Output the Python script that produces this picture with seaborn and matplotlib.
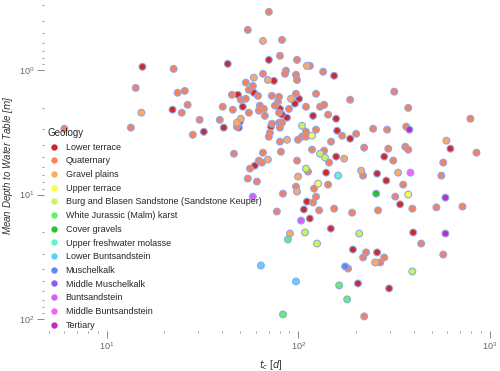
import matplotlib
matplotlib.use("Agg")
import matplotlib.pyplot as plt
from matplotlib.lines import Line2D
import seaborn as sns
import pandas as pd

geology_order = [
    "Lower terrace", "Quaternary", "Gravel plains", "Upper terrace",
    "Burg and Blasen Sandstone (Sandstone Keuper)", "White Jurassic (Malm) karst",
    "Cover gravels", "Upper freshwater molasse", "Lower Buntsandstein",
    "Muschelkalk", "Middle Muschelkalk", "Buntsandstein", "Middle Buntsandstein",
    "Tertiary",
]
geology_colors = [
    "#cc2b2b", "#f5825a", "#fdaa60", "#fafa50", "#c8f55a", "#5ff55f", "#2dc02d",
    "#5ff5d2", "#5fd2fa", "#5f87fa", "#875ffa", "#d25ffa", "#fa5ffa", "#c02dc0",
]

lower_terrace_tc = [15.4, 22.1, 32.2, 40.9, 42.9, 70.3, 74.7, 58.7, 48.5, 101, 96.2, 51.4, 80.3, 82.3,
                    87.4, 49.6, 49.0, 72.1, 59.4, 153.9, 119.5, 157.7, 159.6, 186.6, 622, 157.7, 281,
                    139.8, 258, 288, 111, 107, 115, 340, 148, 398, 193, 258, 205, 298]
lower_terrace_depth = [0.941, 2.08, 3.13, 2.90, 0.890, 0.827, 1.22, 1.52, 1.58, 1.70, 1.86, 1.97, 2.05,
                       2.28, 2.41, 2.60, 2.90, 2.85, 5.86, 1.11, 2.33, 2.46, 3.07, 3.56, 4.28, 4.96, 4.96,
                       6.67, 6.79, 7.73, 11.4, 13.2, 15.6, 12.0, 18.8, 20.2, 27.7, 29.2, 51.9, 56.9]

quaternary_tc = [6.03, 14.2, 22.4, 23.5, 25.6, 26.5, 24.7, 30.6, 13.4, 28.2, 39.0, 40.4, 45.6, 45.1,
                 50.2, 53.3, 53.3, 55.3, 55.3, 47.9, 46.2, 54.6, 56.0, 54.6, 70.3, 82.3, 80.3, 98.6,
                 115, 65.5, 86.3, 85.3, 97.4, 98.6, 58.0, 61.7, 72.9, 79.4, 78.4, 97.4, 109.8, 63.1,
                 66.2, 62.4, 75.6, 79.4, 89.5, 67.0, 72.9, 79.4, 82.3, 80.3, 71.2, 70.3, 109.8, 104.7,
                 109.8, 80.3, 99.8, 65.5, 81.3, 98.6, 62.4, 64.7, 112.5, 60.9, 97.4, 83.3, 77.4,
                 134.9, 317, 186.6, 375, 123.9, 130, 136.5, 143.2, 791, 123.9, 246, 291, 366, 169.4,
                 200.6, 148.4, 118.1, 220.8, 295, 362, 375, 851, 136.5, 144.9, 313, 571, 218, 558,
                 353, 143.2, 121, 321, 719, 526, 394, 261, 191, 154, 128.5, 119.5, 123.9, 438, 226,
                 218, 281, 268, 571, 182, 221]
quaternary_depth = [2.96, 1.39, 0.977, 1.52, 1.47, 1.90, 2.20, 2.51, 2.90, 3.31, 2.51, 1.97, 2.08, 1.58,
                    1.73, 1.70, 1.26, 1.44, 2.20, 2.85, 4.70, 0.475, 6.19, 7.45, 0.340, 0.571, 0.767,
                    0.827, 0.924, 1.07, 1.01, 1.07, 1.09, 1.20, 1.34, 1.61, 1.61, 1.64, 1.80, 1.55,
                    1.97, 1.93, 2.05, 2.12, 1.93, 2.20, 2.05, 2.33, 2.70, 2.65, 2.65, 2.90, 3.19, 3.43,
                    3.13, 3.43, 3.43, 3.76, 3.63, 4.61, 4.53, 5.34, 5.34, 5.54, 6.55, 7.87, 8.64, 9.84,
                    13.7, 1.03, 1.49, 1.73, 2.01, 1.55, 1.97, 1.90, 2.28, 2.46, 3.01, 2.96, 3.01, 2.85,
                    3.37, 3.25, 3.76, 4.36, 4.20, 4.28, 4.13, 4.36, 4.61, 4.44, 5.54, 5.34, 5.54, 7.05,
                    7.05, 8.33, 8.33, 8.97, 10.4, 12.5, 12.7, 13.0, 13.4, 14.0, 13.0, 13.4, 11.6, 10.4,
                    24.8, 29.2, 32.1, 32.1, 35.2, 30.4, 39.4, 95.5]

gravel_plains_tc = [15.2, 50.2, 47.9, 65.5, 111, 58.7, 69.5, 91.7, 87.4, 69.5, 99.8, 98.6, 593, 173.6,
                    213, 332, 90.6, 252]
gravel_plains_depth = [2.20, 2.46, 2.65, 0.582, 0.924, 1.15, 1.20, 1.70, 3.63, 5.24, 7.18, 9.48, 3.69,
                       5.15, 6.43, 6.67, 20.6, 35.2]

upper_terrace_tc = [118, 127, 375]
upper_terrace_depth = [3.37, 8.18, 10.0]

burg_blasen_tc = [104.7, 109.8, 108.5, 130, 138, 125.4, 208, 394]
burg_blasen_depth = [2.80, 6.19, 20.2, 4.70, 5.05, 24.8, 20.6, 41.6]

white_jurassic_tc = [88.4, 83.3, 163.5, 180]
white_jurassic_depth = [23.0, 92.0, 53.8, 69.7]

cover_gravels_tc = [255]
cover_gravels_depth = [9.84]

upper_molasse_tc = [161.5]
upper_molasse_depth = [7.05]

lower_bunt_tc = [63.9, 97.4]
lower_bunt_depth = [37.2, 50.0]

muschelkalk_tc = [175.7]
muschelkalk_depth = [37.9]

buntsandstein_tc = [58.0, 103.5]
buntsandstein_depth = [10.4, 16.2]

middle_bunt_tc = [385]
middle_bunt_depth = [6.67]

tertiary_tc = [380, 586, 586]
tertiary_depth = [3.01, 10.6, 20.6]

series = [
    ("Lower terrace", lower_terrace_tc, lower_terrace_depth),
    ("Quaternary", quaternary_tc, quaternary_depth),
    ("Gravel plains", gravel_plains_tc, gravel_plains_depth),
    ("Upper terrace", upper_terrace_tc, upper_terrace_depth),
    ("Burg and Blasen Sandstone (Sandstone Keuper)", burg_blasen_tc, burg_blasen_depth),
    ("White Jurassic (Malm) karst", white_jurassic_tc, white_jurassic_depth),
    ("Cover gravels", cover_gravels_tc, cover_gravels_depth),
    ("Upper freshwater molasse", upper_molasse_tc, upper_molasse_depth),
    ("Lower Buntsandstein", lower_bunt_tc, lower_bunt_depth),
    ("Muschelkalk", muschelkalk_tc, muschelkalk_depth),
    ("Buntsandstein", buntsandstein_tc, buntsandstein_depth),
    ("Middle Buntsandstein", middle_bunt_tc, middle_bunt_depth),
    ("Tertiary", tertiary_tc, tertiary_depth),
]
rows = []
for name, tcs, ds in series:
    for t, d in zip(tcs, ds):
        rows.append({"tc": t, "depth": d, "geology": name})
df = pd.DataFrame(rows)

sns.set_style("white")
plt.rcParams["font.family"] = ["Liberation Sans", "DejaVu Sans"]

fig = plt.figure(figsize=(5.0, 3.71), dpi=100)
ax = fig.add_axes([0.088, 0.108, 0.906, 0.892])
palette = dict(zip(geology_order, geology_colors))
sns.scatterplot(data=df, x="tc", y="depth", hue="geology", hue_order=geology_order,
                palette=palette, s=24, edgecolor="#8fa6e6", linewidth=0.8, legend=False, ax=ax)
ax.set_xscale("log")
ax.set_yscale("log")
ax.set_xlim(4.72, 1089)
ax.set_ylim(125, 0.273)
for sp in ax.spines.values():
    sp.set_visible(False)
ax.tick_params(which="major", direction="out", length=5, width=0.7, color="#888888",
               labelsize=6.5, labelcolor="#666666", bottom=True, left=True, pad=2)
ax.tick_params(which="minor", direction="out", length=1.5, width=0.6, color="#888888",
               bottom=True, left=True)
ax.set_xlabel(r"$t_c$ [$d$]", fontsize=7, color="#333333", labelpad=4)
ax.set_ylabel(r"Mean Depth to Water Table [$m$]", fontsize=7, style="italic", color="#333333",
              labelpad=3)

handles = [Line2D([], [], marker="o", linestyle="", markersize=4.6, markerfacecolor=c,
                  markeredgewidth=0, color=c) for c in geology_colors]
leg = ax.legend(handles, geology_order, title="Geology", loc="upper left",
                bbox_to_anchor=(0.095, 0.655), bbox_transform=fig.transFigure,
                frameon=False, fontsize=6.5, title_fontsize=7, labelspacing=0.52,
                handletextpad=0.6, borderaxespad=0, borderpad=0, handlelength=1.4)
leg._legend_box.align = "left"

fig.savefig("out.png", dpi=100)
